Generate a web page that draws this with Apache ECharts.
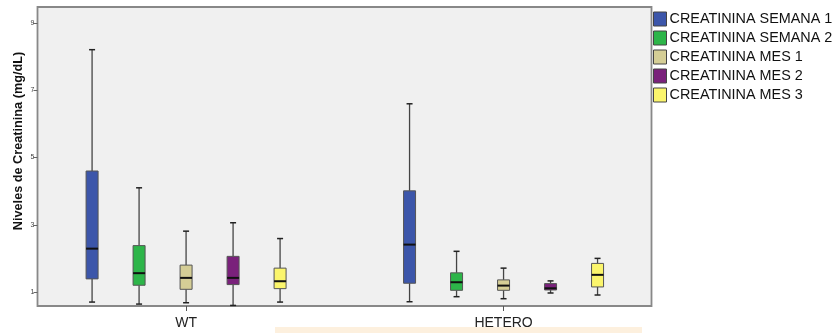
<!DOCTYPE html>
<html>
<head>
<meta charset="utf-8">
<script src="https://cdn.jsdelivr.net/npm/echarts@6/dist/echarts.min.js"></script>
<style>
  html, body { margin: 0; padding: 0; background: #ffffff; }
  #chart { width: 837px; height: 333px; }
</style>
</head>
<body>
<div id="chart"></div>
<script>
// Groups on the horizontal axis
const groups = ['WT', 'HETERO'];

// Series names (legend order)
const seriesNames = [
  'CREATININA SEMANA 1',
  'CREATININA SEMANA 2',
  'CREATININA MES 1',
  'CREATININA MES 2',
  'CREATININA MES 3'
];

// Box statistics per series: [min, Q1, median, Q3, max] for WT, then HETERO
const semana1 = [[0.70, 1.39, 2.29, 4.60, 8.21], [0.71, 1.26, 2.41, 4.01, 6.60]];
const semana2 = [[0.64, 1.20, 1.56, 2.38, 4.10], [0.86, 1.05, 1.29, 1.57, 2.21]];
const mes1    = [[0.68, 1.08, 1.42, 1.80, 2.81], [0.80, 1.05, 1.19, 1.36, 1.71]];
const mes2    = [[0.60, 1.22, 1.42, 2.06, 3.06], [0.97, 1.06, 1.11, 1.25, 1.33]];
const mes3    = [[0.70, 1.10, 1.32, 1.71, 2.59], [0.91, 1.15, 1.51, 1.85, 2.00]];

// Y axis tick labels
const yTicks = [1, 3, 5, 7, 9];

const seriesStats = [semana1, semana2, mes1, mes2, mes3];
const colors = ['#3c56aa', '#2db549', '#d5ce96', '#7a217b', '#fbf56c'];

// Box geometry (pixels)
const BOX_W = 12;
const STEP = 47;
const CAP_W = 6;

function renderBox(params, api) {
  const g = api.value(0);
  const off = (params.seriesIndex - 2) * STEP;
  const cx = api.coord([g, api.value(3)])[0] + off;
  const yMin = api.coord([g, api.value(1)])[1];
  const yQ1 = api.coord([g, api.value(2)])[1];
  const yMed = api.coord([g, api.value(3)])[1];
  const yQ3 = api.coord([g, api.value(4)])[1];
  const yMax = api.coord([g, api.value(5)])[1];
  const whisker = { stroke: '#444', lineWidth: 1.3 };
  const cap = { stroke: '#222', lineWidth: 1.5 };
  return {
    type: 'group',
    children: [
      { type: 'line', shape: { x1: cx, y1: yMax, x2: cx, y2: yQ3 }, style: whisker },
      { type: 'line', shape: { x1: cx, y1: yQ1, x2: cx, y2: yMin }, style: whisker },
      { type: 'line', shape: { x1: cx - CAP_W / 2, y1: yMax, x2: cx + CAP_W / 2, y2: yMax }, style: cap },
      { type: 'line', shape: { x1: cx - CAP_W / 2, y1: yMin, x2: cx + CAP_W / 2, y2: yMin }, style: cap },
      {
        type: 'rect',
        shape: { x: cx - BOX_W / 2, y: yQ3, width: BOX_W, height: yQ1 - yQ3 },
        style: { fill: api.visual('color'), stroke: '#555', lineWidth: 1 }
      },
      { type: 'line', shape: { x1: cx - BOX_W / 2, y1: yMed, x2: cx + BOX_W / 2, y2: yMed }, style: { stroke: '#111', lineWidth: 2 } }
    ]
  };
}

const series = seriesNames.map(function (name, i) {
  return {
    name: name,
    type: 'custom',
    renderItem: renderBox,
    encode: { x: 0, y: [1, 2, 3, 4, 5] },
    itemStyle: { color: colors[i], borderColor: '#444', borderWidth: 1 },
    data: seriesStats[i].map(function (s, g) { return [g].concat(s); })
  };
});

const chart = echarts.init(document.getElementById('chart'), null, { renderer: 'canvas' });
chart.setOption({
  animation: false,
  backgroundColor: '#ffffff',
  textStyle: { fontFamily: 'Liberation Sans, Arial, sans-serif' },
  grid: {
    left: 37.5, top: 7, right: 185.5, bottom: 27,
    outerBoundsMode: 'none', containLabel: false,
    show: true, backgroundColor: '#f0f0f0', borderColor: '#888', borderWidth: 1.8
  },
  legend: {
    orient: 'vertical', left: 653, top: 11.5, padding: 0,
    icon: 'rect', itemWidth: 13, itemHeight: 14, itemGap: 4,
    itemStyle: { borderColor: '#444', borderWidth: 1 },
    textStyle: { fontSize: 14.4, color: '#111', padding: [0, 0, 0, -2] },
    data: seriesNames
  },
  xAxis: {
    type: 'value', min: -0.468, max: 1.466,
    axisLine: { show: false, onZero: false },
    splitLine: { show: false },
    axisTick: { show: true, customValues: [0, 1], length: 5, lineStyle: { color: '#555' } },
    axisLabel: {
      customValues: [0, 1], margin: 10, fontSize: 14, color: '#222',
      formatter: function (v) { return groups[Math.round(v)]; }
    }
  },
  yAxis: {
    type: 'value', min: 0.583, max: 9.48,
    name: 'Niveles de Creatinina (mg/dL)',
    nameLocation: 'middle', nameGap: 12.5, nameMoveOverlap: false,
    nameTextStyle: { fontSize: 12.7, fontWeight: 'bold', color: '#111', padding: [0, 0, 0, 31] },
    axisLine: { show: false, onZero: false },
    splitLine: { show: false },
    axisTick: { show: true, customValues: yTicks, length: 4, lineStyle: { color: '#666' } },
    axisLabel: { customValues: yTicks, margin: 3, fontSize: 7, color: '#444' }
  },
  graphic: [
    { type: 'rect', shape: { x: 275, y: 327, width: 367, height: 6 }, style: { fill: '#fdf0de' }, silent: true }
  ],
  series: series
});
</script>
</body>
</html>
